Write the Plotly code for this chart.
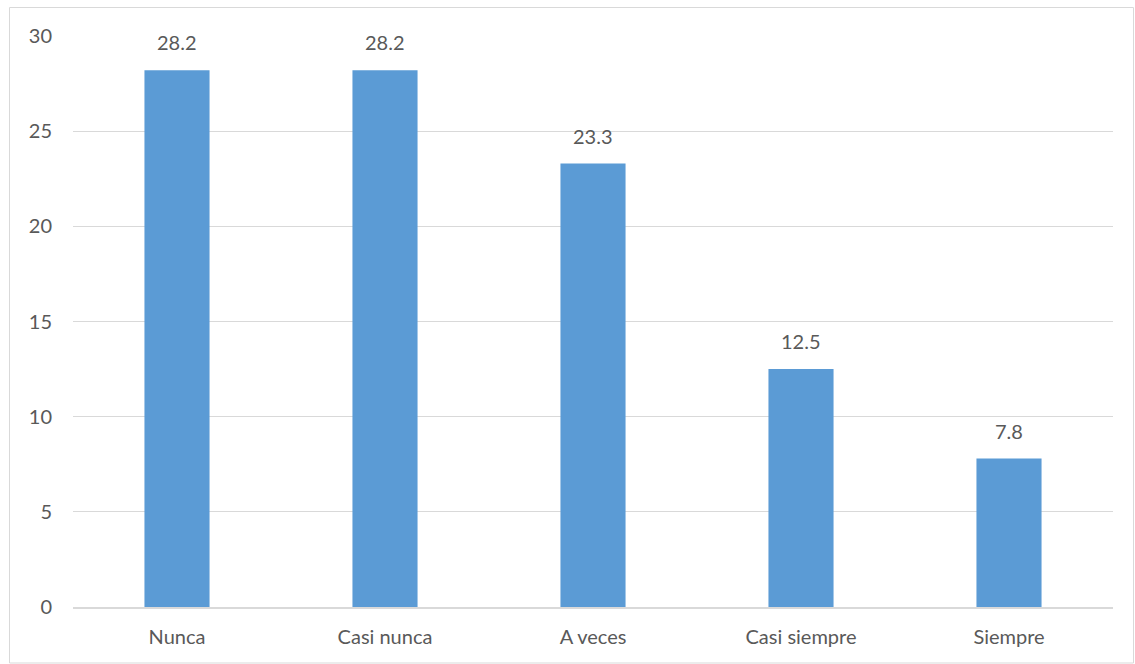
import plotly.graph_objects as go

categories = ["Nunca", "Casi nunca", "A veces", "Casi siempre", "Siempre"]
values = [28.2, 28.2, 23.3, 12.5, 7.8]
y_ticks = [0, 5, 10, 15, 20, 25, 30]

W, H = 1135, 664
ML, MR, MT, MB = 73, 21.5, 36, 57
pw = W - ML - MR
ph = H - MT - MB

def px_x(x):
    return (x - ML) / pw

def px_y(y):
    return 1 - (y - MT) / ph

font_fam = "Lato, Carlito, 'Liberation Sans', sans-serif"
txt = "#595959"

fig = go.Figure(go.Bar(
    x=categories, y=values,
    marker=dict(color="#5b9bd5", line=dict(width=0)),
    hoverinfo="x+y",
))

annotations = [dict(x=c, y=v, xref="x", yref="y", text=f"{v:.1f}", showarrow=False,
                    yanchor="bottom", yshift=14,
                    font=dict(family=font_fam, size=20, color=txt))
               for c, v in zip(categories, values)]

fig.update_layout(
    width=W, height=H,
    margin=dict(l=ML, r=MR, t=MT, b=MB, pad=0),
    paper_bgcolor="white", plot_bgcolor="white",
    bargap=0.687,
    showlegend=False,
    font=dict(family=font_fam, size=20, color=txt),
    annotations=annotations,
    shapes=[dict(type="rect", xref="paper", yref="paper",
                 x0=px_x(9.5), x1=px_x(1134), y0=px_y(663), y1=px_y(7.5),
                 line=dict(color="#d9d9d9", width=1), layer="below")],
)
fig.update_xaxes(showgrid=False, showline=True, linecolor="#d9d9d9", linewidth=1.5,
                 ticks="", tickfont=dict(family=font_fam, size=20, color=txt),
                 ticklabelstandoff=11)
fig.update_yaxes(range=[0, 30], tickvals=y_ticks, showgrid=True, gridcolor="#d9d9d9",
                 gridwidth=1, zeroline=False, showline=False, ticks="",
                 tickfont=dict(family=font_fam, size=20, color=txt),
                 ticklabelstandoff=20)

fig.write_html("out.html")
